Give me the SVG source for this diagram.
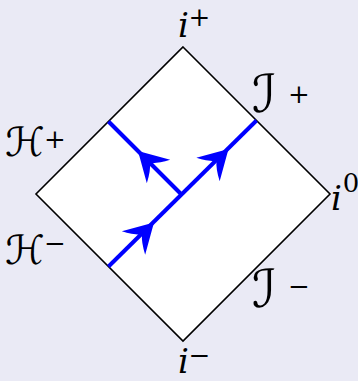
<svg xmlns="http://www.w3.org/2000/svg" width="358" height="381" viewBox="0 0 358 381">
<style>
.bg{fill:#eaeaf5}
.diamond{fill:#ffffff;stroke:#000000;stroke-width:1.6;stroke-linejoin:miter}
.ray{fill:none;stroke:#0000ff;stroke-width:4;stroke-linecap:butt}
.head{fill:#0000ff;stroke:none}
.main{font-family:"DejaVu Serif","Liberation Serif",serif;font-style:italic;font-size:34px;fill:#000}
.cal{font-family:"DejaVu Sans","DejaVu Serif",sans-serif;font-size:40px;fill:#000}
.scri{font-family:"DejaVu Sans","DejaVu Serif",sans-serif;font-size:52px;fill:#000;font-style:italic}
.sup{font-family:"DejaVu Serif","Liberation Serif",serif;font-size:26px;fill:#000;text-anchor:middle}
</style>
<defs>
<path id="arrowhead" class="head" d="M0,0 L-29,16.5 Q-23,5 -17,0 Q-23,-5 -29,-16.5 Z"/>
</defs>
<rect class="bg" x="0" y="0" width="358" height="381"/>
<g id="spacetime">
<path class="diamond" d="M183,47 L330,194 L183,341 L36,194 Z"/>
</g>
<g id="connectors">
<path id="ray-outgoing" class="ray" d="M108.5,266.5 L256.5,120.5"/>
<path id="ray-infalling" class="ray" d="M181.5,194.5 L108.5,121.5"/>
<use href="#arrowhead" transform="translate(154,222.5) rotate(-45)"/>
<use href="#arrowhead" transform="translate(228.5,149) rotate(-45)"/>
<use href="#arrowhead" transform="translate(138,151) rotate(-135)"/>
</g>
<g id="label-i-plus">
<text class="main" x="178" y="37">i</text>
<text class="sup" x="199.5" y="26">+</text>
</g>
<g id="label-i-zero">
<text class="main" x="331" y="210">i</text>
<text class="sup" x="351" y="192">0</text>
</g>
<g id="label-i-minus">
<text class="main" x="178" y="373">i</text>
<text class="sup" x="199.5" y="364">−</text>
</g>
<g id="label-H-plus">
<text class="cal" x="5" y="156">ℋ</text>
<text class="sup" x="55" y="148">+</text>
</g>
<g id="label-H-minus">
<text class="cal" x="5" y="264">ℋ</text>
<text class="sup" x="55" y="251.5">−</text>
</g>
<g id="label-scri-plus">
<text class="scri" x="252" y="112">ℐ</text>
<text class="sup" x="299" y="103">+</text>
</g>
<g id="label-scri-minus">
<text class="scri" x="252" y="307">ℐ</text>
<text class="sup" x="299" y="295">−</text>
</g>
</svg>
